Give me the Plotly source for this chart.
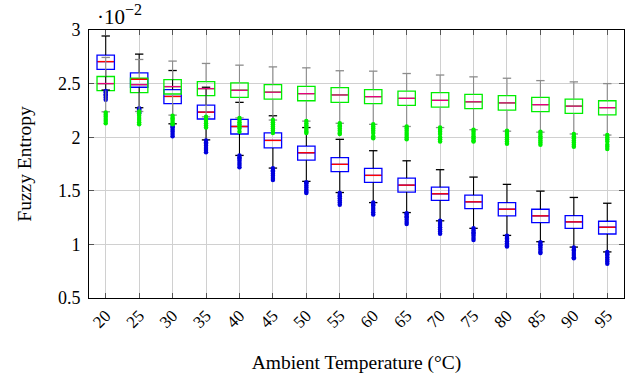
import plotly.graph_objects as go

temps = [20, 25, 30, 35, 40, 45, 50, 55, 60, 65, 70, 75, 80, 85, 90, 95]
tick_labels = [str(t) for t in temps]

# Blue series
blue_q1 = [2.632, 2.466, 2.313, 2.170, 2.030, 1.900, 1.786, 1.678, 1.578, 1.488, 1.410, 1.334, 1.266, 1.203, 1.150, 1.097]
blue_med = [2.705, 2.540, 2.380, 2.234, 2.100, 1.970, 1.855, 1.747, 1.644, 1.553, 1.472, 1.397, 1.328, 1.266, 1.210, 1.160]
blue_q3 = [2.766, 2.600, 2.444, 2.300, 2.166, 2.040, 1.917, 1.810, 1.710, 1.619, 1.534, 1.460, 1.390, 1.328, 1.269, 1.216]
blue_low = [2.440, 2.275, 2.125, 1.975, 1.830, 1.712, 1.588, 1.484, 1.390, 1.297, 1.220, 1.150, 1.084, 1.025, 0.975, 0.930]
blue_high = [2.944, 2.775, 2.622, 2.466, 2.325, 2.200, 2.090, 1.980, 1.874, 1.780, 1.697, 1.628, 1.560, 1.497, 1.438, 1.384]
blue_out = [
    [2.43, 2.42, 2.40, 2.39, 2.37, 2.35],
    [2.27, 2.26, 2.25, 2.24, 2.23, 2.22],
    [2.12, 2.10, 2.09, 2.07, 2.05, 2.03, 2.01],
    [1.97, 1.95, 1.94, 1.92, 1.90, 1.88, 1.86],
    [1.83, 1.81, 1.80, 1.78, 1.76, 1.74, 1.72],
    [1.71, 1.69, 1.68, 1.66, 1.64, 1.62, 1.60],
    [1.58, 1.57, 1.55, 1.53, 1.51, 1.49, 1.48],
    [1.48, 1.46, 1.45, 1.43, 1.41, 1.39, 1.37],
    [1.39, 1.37, 1.36, 1.34, 1.32, 1.30, 1.28],
    [1.29, 1.28, 1.26, 1.25, 1.23, 1.21, 1.19],
    [1.22, 1.20, 1.18, 1.16, 1.14, 1.12, 1.10],
    [1.15, 1.13, 1.11, 1.10, 1.08, 1.06, 1.04],
    [1.08, 1.06, 1.05, 1.03, 1.01, 0.99, 0.98],
    [1.02, 1.00, 0.99, 0.97, 0.95, 0.93, 0.92],
    [0.97, 0.95, 0.94, 0.92, 0.90, 0.88, 0.87],
    [0.93, 0.91, 0.90, 0.88, 0.86, 0.84, 0.82],
]

# Green series
green_q1 = [2.435, 2.416, 2.403, 2.388, 2.372, 2.356, 2.340, 2.325, 2.313, 2.297, 2.280, 2.266, 2.253, 2.238, 2.222, 2.209]
green_med = [2.500, 2.490, 2.472, 2.453, 2.438, 2.420, 2.406, 2.394, 2.378, 2.363, 2.344, 2.330, 2.320, 2.303, 2.290, 2.275]
green_q3 = [2.566, 2.550, 2.538, 2.519, 2.506, 2.490, 2.475, 2.463, 2.444, 2.430, 2.416, 2.400, 2.388, 2.372, 2.356, 2.340]
green_low = [2.237, 2.240, 2.206, 2.190, 2.180, 2.160, 2.150, 2.130, 2.120, 2.100, 2.090, 2.070, 2.056, 2.047, 2.030, 2.020]
green_high = [2.744, 2.725, 2.710, 2.688, 2.672, 2.656, 2.647, 2.620, 2.616, 2.594, 2.580, 2.563, 2.550, 2.528, 2.516, 2.500]
green_out = [
    [2.23, 2.21, 2.19, 2.17, 2.15, 2.13],
    [2.24, 2.22, 2.20, 2.18, 2.16, 2.14, 2.12],
    [2.20, 2.18, 2.17, 2.15, 2.13, 2.12],
    [2.19, 2.17, 2.15, 2.13, 2.11, 2.09],
    [2.18, 2.16, 2.14, 2.12, 2.10, 2.08, 2.05],
    [2.16, 2.14, 2.12, 2.10, 2.08, 2.06, 2.04],
    [2.15, 2.13, 2.11, 2.09, 2.07, 2.05, 2.04],
    [2.13, 2.11, 2.10, 2.08, 2.06, 2.04, 2.03],
    [2.12, 2.10, 2.08, 2.06, 2.04, 2.01, 1.99],
    [2.10, 2.08, 2.06, 2.04, 2.02, 2.00, 1.98],
    [2.09, 2.07, 2.05, 2.03, 2.00, 1.98, 1.96],
    [2.07, 2.05, 2.03, 2.01, 1.99, 1.97, 1.96],
    [2.06, 2.04, 2.02, 2.00, 1.98, 1.96, 1.94],
    [2.05, 2.03, 2.01, 1.99, 1.97, 1.95, 1.93],
    [2.03, 2.01, 1.99, 1.97, 1.95, 1.93, 1.91],
    [2.02, 2.00, 1.98, 1.96, 1.93, 1.91, 1.89],
]

FONT = "Liberation Serif"
BOX_W = 2.6

fig = go.Figure()


def add_series(q1, med, q3, low, high, outs, box_col, med_col, whisk_col, out_col):
    # whiskers
    wx, wy = [], []
    for i, t in enumerate(temps):
        wx += [t, t, None, t, t, None]
        wy += [high[i], q3[i], None, q1[i], low[i], None]
    fig.add_trace(go.Scatter(x=wx, y=wy, mode="lines",
                             line=dict(color=whisk_col, width=1.1),
                             hoverinfo="skip", showlegend=False))
    # caps
    fig.add_trace(go.Scatter(x=temps + temps, y=high + low, mode="markers",
                             marker=dict(symbol="line-ew", size=6,
                                         line=dict(color=whisk_col, width=1.3)),
                             hoverinfo="skip", showlegend=False))
    # outliers
    ox, oy = [], []
    for i, t in enumerate(temps):
        ox += [t] * len(outs[i])
        oy += outs[i]
    fig.add_trace(go.Scatter(x=ox, y=oy, mode="markers",
                             marker=dict(symbol="circle", size=4.5, color=out_col),
                             hoverinfo="skip", showlegend=False))
    # boxes
    fig.add_trace(go.Box(x=temps, q1=q1, median=med, q3=q3,
                         lowerfence=q1, upperfence=q3,
                         width=BOX_W, line=dict(color=box_col, width=1.3),
                         fillcolor="rgba(255,255,255,0)",
                         boxpoints=False, whiskerwidth=0,
                         hoverinfo="skip", showlegend=False))
    # medians
    fig.add_trace(go.Scatter(x=temps, y=med, mode="markers",
                             marker=dict(symbol="line-ew", size=11.5,
                                         line=dict(color=med_col, width=1.4)),
                             hoverinfo="skip", showlegend=False))


add_series(blue_q1, blue_med, blue_q3, blue_low, blue_high, blue_out,
           "#0000ff", "#ff0000", "#000000", "#0000dd")
add_series(green_q1, green_med, green_q3, green_low, green_high, green_out,
           "#00ee00", "#e6007e", "#8c8c8c", "#00ee00")

fig.update_layout(
    width=641, height=377,
    margin=dict(l=89, r=17, t=30, b=79, autoexpand=False),
    paper_bgcolor="white", plot_bgcolor="white",
    boxmode="overlay",
    font=dict(family=FONT, size=18, color="black"),
    showlegend=False,
)

fig.update_xaxes(
    range=[17.5, 97.5], tickmode="array", tickvals=temps, ticktext=tick_labels,
    tickangle=-45, showgrid=True, gridcolor="#d0d0d0", gridwidth=1,
    ticks="inside", ticklen=5, tickcolor="#555555", mirror="ticks",
    showline=True, linecolor="black", linewidth=1, zeroline=False,
    automargin=False,
    title=dict(text="Ambient Temperature (°C)", font=dict(family=FONT, size=19.5), standoff=24),
    tickfont=dict(family=FONT, size=17),
)
fig.update_yaxes(
    range=[0.5, 3.0], tickmode="array", tickvals=[0.5, 1, 1.5, 2, 2.5, 3],
    ticktext=["0.5", "1", "1.5", "2", "2.5", "3"],
    showgrid=True, gridcolor="#d0d0d0", gridwidth=1,
    ticks="inside", ticklen=5, tickcolor="#555555", mirror="ticks",
    showline=True, linecolor="black", linewidth=1, zeroline=False,
    automargin=False,
    title=dict(text="Fuzzy Entropy", font=dict(family=FONT, size=19.5), standoff=21),
    tickfont=dict(family=FONT, size=18), ticklabelstandoff=4,
)

fig.add_annotation(x=0, y=1, xref="paper", yref="paper", xanchor="left", yanchor="bottom",
                   xshift=6, yshift=-1, showarrow=False,
                   text="·10<sup><span style='font-size:16px'>−2</span></sup>",
                   font=dict(family=FONT, size=21))

fig.write_html("out.html")
